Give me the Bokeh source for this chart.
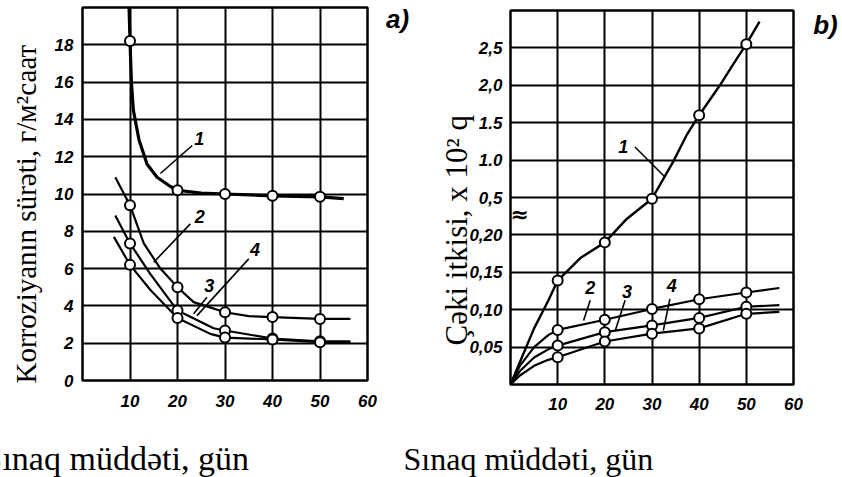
from bokeh.plotting import figure
from bokeh.models import FixedTicker, Label, Title, ColumnDataSource, CustomJSTransform, Range1d
from bokeh.transform import transform
from bokeh.layouts import row, column
from bokeh.embed import file_html
from bokeh.resources import INLINE

# ---------------- data ----------------
days = [10, 20, 30, 40, 50]
x_ticks = [10, 20, 30, 40, 50, 60]

# panel a) corrosion rate, g/m2 h
a_c1 = [18.2, 10.2, 10.0, 9.9, 9.85]
a_c2 = [9.4, 5.0, 3.66, 3.4, 3.3]
a_c3 = [7.35, 3.75, 2.68, 2.25, 2.1]
a_c4 = [6.2, 3.35, 2.3, 2.2, 2.05]

# traced curves of panel a)
a1_x = [9.8, 10.0, 10.3, 10.7, 11.9, 13.6, 15.7, 18.5, 20, 25, 30, 40, 50, 55]
a1_y = [20.0, 18.2, 16.0, 14.5, 12.9, 11.6, 10.9, 10.4, 10.2, 10.05, 10.0, 9.9, 9.85, 9.75]
a2_x = [6.9, 10, 12.9, 16.4, 20, 23.4, 30, 35, 40, 50, 56.4]
a2_y = [10.9, 9.4, 7.35, 6.0, 5.0, 4.2, 3.66, 3.45, 3.4, 3.3, 3.3]
a3_x = [6.9, 10, 14.3, 20, 27.6, 30, 40, 50, 56.4]
a3_y = [8.85, 7.35, 5.7, 3.75, 2.8, 2.68, 2.25, 2.1, 2.1]
a4_x = [6.6, 10, 14.3, 20, 26.9, 30, 40, 50, 56.4]
a4_y = [7.7, 6.2, 4.85, 3.35, 2.5, 2.3, 2.2, 2.05, 2.05]
a_y_ticks = [0, 2, 4, 6, 8, 10, 12, 14, 16, 18]

# panel b) weight loss, x 10^2 g (broken axis)
b_c1 = [0.139, 0.19, 0.49, 1.6, 2.55]
b_c2 = [0.073, 0.0865, 0.101, 0.114, 0.123]
b_c3 = [0.052, 0.07, 0.079, 0.089, 0.104]
b_c4 = [0.0365, 0.0575, 0.068, 0.075, 0.0945]

b1_x = [0, 2, 5, 8, 10, 14.8, 20, 24.7, 30, 34.5, 37.3, 40, 44.4, 47.2, 50, 52.8]
b1_y = [0, 0.03, 0.075, 0.112, 0.139, 0.169, 0.19, 0.33, 0.49, 0.98, 1.33, 1.6, 2.0, 2.28, 2.55, 2.85]
b2_x = [0, 2, 5, 8, 10, 20, 30, 40, 50, 57]
b2_y = [0, 0.025, 0.05, 0.066, 0.073, 0.0865, 0.101, 0.114, 0.123, 0.129]
b3_x = [0, 2, 5, 8, 10, 20, 30, 40, 50, 57]
b3_y = [0, 0.018, 0.036, 0.047, 0.052, 0.07, 0.079, 0.089, 0.104, 0.106]
b4_x = [0, 2, 5, 8, 10, 20, 30, 40, 50, 57]
b4_y = [0, 0.012, 0.025, 0.033, 0.0365, 0.0575, 0.068, 0.075, 0.0945, 0.097]

# broken axis tick positions (index on axis) and their labels
b_tick_pos = [1, 2, 3, 4, 5, 6, 7, 8, 9]
b_tick_labels = ["0,05", "0,10", "0,15", "0,20", "0,5", "1.0", "1.5", "2,0", "2,5"]

# ---------------- styling ----------------
TICK_FONT = "Liberation Sans"
SERIF = "Liberation Serif"
ROW_H = 420

brk = CustomJSTransform(
    func="""
const v = x;
if (v <= 0.2) return v / 0.05;
if (v < 0.5) return 4 + (v - 0.2) / 0.3;
return 4 + v / 0.5;
""",
    v_func="""
const out = new Array(xs.length);
for (let i = 0; i < xs.length; i++) {
  const v = xs[i];
  if (v <= 0.2) out[i] = v / 0.05;
  else if (v < 0.5) out[i] = 4 + (v - 0.2) / 0.3;
  else out[i] = 4 + v / 0.5;
}
return out;
""")


def base_style(p):
    p.background_fill_color = "white"
    p.border_fill_color = "white"
    p.outline_line_color = "black"
    p.outline_line_width = 2.5
    p.outline_line_alpha = 1.0
    for g in (p.xgrid, p.ygrid):
        g.grid_line_color = "black"
        g.grid_line_width = 2
        g.grid_line_alpha = 1.0
    for ax in (p.xaxis, p.yaxis):
        ax.axis_line_color = None
        ax.major_tick_line_color = None
        ax.minor_tick_line_color = None
        ax.major_tick_out = 0
        ax.major_tick_in = 0
        ax.major_label_text_font = TICK_FONT
        ax.major_label_text_font_style = "bold italic"
        ax.major_label_text_font_size = "17px"
        ax.major_label_text_color = "black"


def num_label(p, x, y, t):
    p.add_layout(Label(x=x, y=y, text=t, text_align="center", text_baseline="middle",
                       text_font=TICK_FONT, text_font_style="bold italic",
                       text_font_size="18px", text_color="black"))


def blank(w, h):
    p = figure(width=w, height=h, x_range=Range1d(0, w), y_range=Range1d(0, h),
               title=None, toolbar_location=None, output_backend="svg",
               x_axis_type=None, y_axis_type=None, min_border=0, frame_align=False,
               min_border_left=0, min_border_right=0, min_border_top=0, min_border_bottom=0)
    p.background_fill_color = "white"
    p.border_fill_color = "white"
    p.outline_line_color = None
    p.xgrid.visible = False
    p.ygrid.visible = False
    return p


# ---------------- panel a ----------------
pa = figure(width=377, height=ROW_H, x_range=Range1d(0, 60), y_range=Range1d(0, 20),
            title=None, toolbar_location=None, output_backend="svg", frame_align=False,
            min_border_left=82, min_border_right=10, min_border_top=7, min_border_bottom=40)
base_style(pa)
pa.xaxis.ticker = FixedTicker(ticks=x_ticks)
pa.yaxis.ticker = FixedTicker(ticks=a_y_ticks)
pa.xgrid.ticker = FixedTicker(ticks=x_ticks)
pa.ygrid.ticker = FixedTicker(ticks=a_y_ticks)
pa.xaxis.major_label_standoff = 14
pa.yaxis.major_label_standoff = 9

pa.line(a1_x, a1_y, line_color="black", line_width=3.2)
pa.line(a2_x, a2_y, line_color="black", line_width=2.2)
pa.line(a3_x, a3_y, line_color="black", line_width=2.2)
pa.line(a4_x, a4_y, line_color="black", line_width=2.2)
for ys in (a_c1, a_c2, a_c3, a_c4):
    pa.scatter(days, ys, marker="circle", size=10, fill_color="white",
               line_color="black", line_width=2)

pa.segment(x0=[16.4, 15.0, 23.4, 24.1], y0=[11.1, 6.34, 3.58, 3.48],
           x1=[23.1, 22.7, 26.2, 35.0], y1=[12.6, 8.4, 4.47, 6.52],
           line_color="black", line_width=1.6)
num_label(pa, 24.6, 13.0, "1")
num_label(pa, 24.7, 8.8, "2")
num_label(pa, 26.7, 5.1, "3")
num_label(pa, 36.3, 7.0, "4")

pa.add_layout(Title(text="Korroziyanın sürəti, г/м²саат", align="left", offset=-3,
                    vertical_align="middle", standoff=17,
                    text_font=SERIF, text_font_size="29px", text_font_style="normal",
                    text_color="black"), "left")

# ---------------- gap with panel label a) ----------------
pmid = blank(43, ROW_H)
pmid.add_layout(Label(x=20, y=ROW_H - 18, text="a)", text_align="center", text_baseline="middle",
                      text_font=TICK_FONT, text_font_style="bold italic",
                      text_font_size="26px", text_color="black"))

# ---------------- panel b ----------------
pb = figure(width=383, height=ROW_H, x_range=Range1d(0, 60), y_range=Range1d(0, 10),
            title=None, toolbar_location=None, output_backend="svg", frame_align=False,
            min_border_left=90, min_border_right=10, min_border_top=10, min_border_bottom=36)
base_style(pb)
pb.xaxis.ticker = FixedTicker(ticks=x_ticks)
pb.yaxis.ticker = FixedTicker(ticks=b_tick_pos)
pb.yaxis.major_label_overrides = {k: v for k, v in zip(b_tick_pos, b_tick_labels)}
pb.xgrid.ticker = FixedTicker(ticks=x_ticks)
pb.ygrid.ticker = FixedTicker(ticks=b_tick_pos)
pb.xaxis.major_label_standoff = 13
pb.yaxis.major_label_standoff = 8

for xs, ys, w in ((b1_x, b1_y, 2.4), (b2_x, b2_y, 2.2), (b3_x, b3_y, 2.2), (b4_x, b4_y, 2.2)):
    src = ColumnDataSource(dict(x=xs, y=ys))
    pb.line(x="x", y=transform("y", brk), source=src, line_color="black", line_width=w)
for ys in (b_c1, b_c2, b_c3, b_c4):
    src = ColumnDataSource(dict(x=days, y=ys))
    pb.scatter(x="x", y=transform("y", brk), source=src, marker="circle", size=10,
               fill_color="white", line_color="black", line_width=2)

pb.segment(x0=[26.4, 15.5, 22.2, 32.4], y0=[6.35, 1.71, 1.44, 1.44],
           x1=[32.8, 16.9, 24.3, 33.8], y1=[5.54, 2.25, 2.25, 2.29],
           line_color="black", line_width=1.6)
num_label(pb, 23.9, 6.36, "1")
num_label(pb, 16.9, 2.6, "2")
num_label(pb, 24.7, 2.5, "3")
num_label(pb, 34.2, 2.65, "4")

pb.add_layout(Label(x=0, y=4.55, text="≈", text_align="left", text_baseline="middle",
                    text_font="DejaVu Sans", text_font_style="bold",
                    text_font_size="22px", text_color="black"))
pb.add_layout(Title(text="Çəki itkisi, x 10² q", align="left", offset=39,
                    vertical_align="middle", standoff=-16,
                    text_font=SERIF, text_font_size="31px", text_font_style="normal",
                    text_color="black"), "left")

# ---------------- right strip with panel label b) ----------------
prt = blank(39, ROW_H)
prt.add_layout(Label(x=22, y=ROW_H - 24, text="b)", text_align="center", text_baseline="middle",
                     text_font=TICK_FONT, text_font_style="bold italic",
                     text_font_size="26px", text_color="black"))

# ---------------- bottom captions ----------------
pc = blank(842, 57)
pc.add_layout(Label(x=-17, y=19, text="Sınaq  müddəti, gün", text_align="left",
                    text_baseline="alphabetic", text_font=SERIF, text_font_size="34px",
                    text_color="black"))
pc.add_layout(Label(x=403, y=19, text="Sınaq  müddəti, gün", text_align="left",
                    text_baseline="alphabetic", text_font=SERIF, text_font_size="32px",
                    text_color="black"))

layout = column(row(pa, pmid, pb, prt), pc)
open("out.html", "w").write(file_html(layout, INLINE))
